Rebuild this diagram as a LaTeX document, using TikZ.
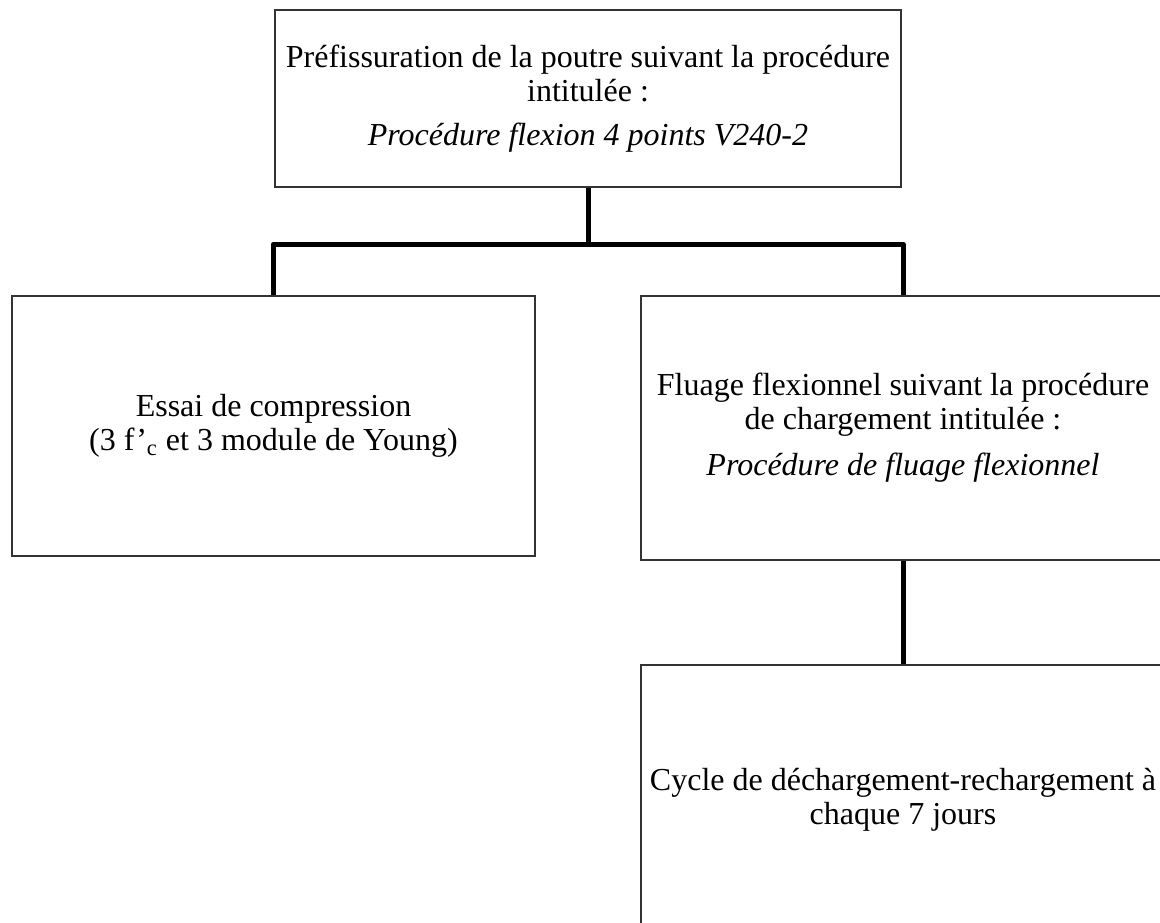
\documentclass[tikz,border=0pt]{standalone}
\usepackage{fontspec}
\setmainfont{Liberation Serif}
\usetikzlibrary{positioning}

\begin{document}
\begin{tikzpicture}[
    x=0.5pt, y=-0.5pt,
    box/.style={draw=black!80, line width=0.75pt, rectangle, align=center, inner sep=0pt, font=\fontsize{16}{17}\selectfont},
    link/.style={line width=2.5pt, line join=round}
]
\useasboundingbox (0,0) rectangle (1160,922);
% Nodes
\node[box, minimum width=313pt, minimum height=88.5pt] (prefiss) at (588,98.5) {Préfissuration de la poutre suivant la procédure\\ intitulée :\\[5pt] \textit{Procédure flexion 4 points V240-2}};
\node[box, minimum width=261.5pt, minimum height=130pt] (compr) at (273.5,426) {Essai de compression\\ (3 f’\textsubscript{c} et 3 module de Young)};
\node[box, minimum width=262pt, minimum height=132pt] (fluage) at (903,428) {Fluage flexionnel suivant la procédure\\ de chargement intitulée :\\[6pt] \textit{Procédure de fluage flexionnel}};
\node[box, minimum width=262pt, minimum height=135pt] (recharge) at (903,800) {Cycle de déchargement-rechargement à\\ chaque 7 jours};
\coordinate (bus) at (0,244);

% Lines
\draw[link] (prefiss.south) -- (prefiss.south |- bus);
\draw[link] (compr.north) |- (fluage.north |- bus) -- (fluage.north);
\draw[link] (fluage.south) -- (recharge.north);
\end{tikzpicture}
\end{document}
